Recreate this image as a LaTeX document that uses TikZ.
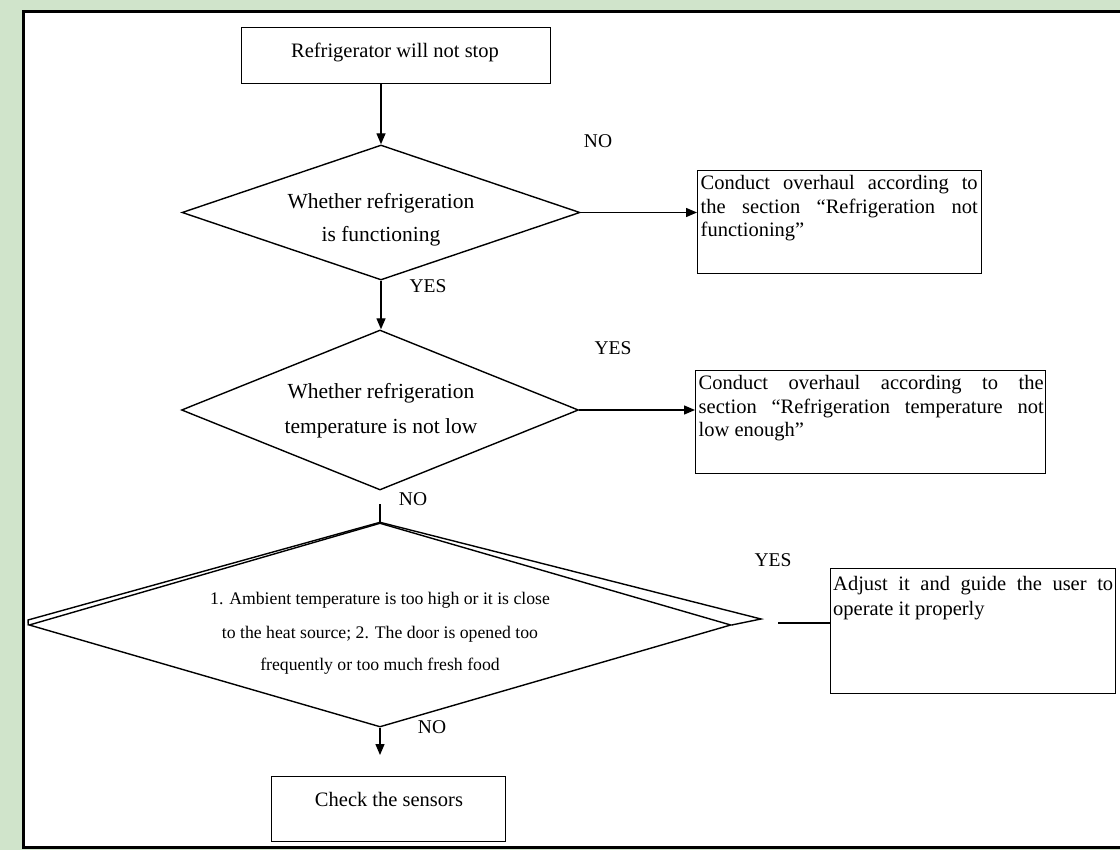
\documentclass[tikz,border=0pt]{standalone}
\usepackage{fontspec}
\setmainfont{Liberation Serif}
\usetikzlibrary{shapes.geometric,arrows.meta}
\definecolor{bggreen}{RGB}{208,228,203}
\begin{document}
\begin{tikzpicture}[x=1pt,y=-1pt,
  line width=1.4pt,
  box/.style={draw, rectangle, inner sep=0pt, anchor=north west},
  dia/.style={draw, diamond, inner sep=0pt},
  txt/.style={inner sep=0pt, anchor=base, font=\fontsize{20.5}{23.5}\selectfont},
  ltxt/.style={inner sep=0pt, anchor=base west, font=\fontsize{20.5}{23.5}\selectfont},
  dtxt/.style={inner sep=0pt, anchor=base, font=\fontsize{21.5}{25}\selectfont},
  stxt/.style={inner sep=0pt, anchor=base, font=\fontsize{17.7}{20}\selectfont},
  lbl/.style={inner sep=0pt, anchor=center, font=\fontsize{19.5}{22}\selectfont},
  arr/.style={-{Triangle[length=11pt,width=9pt]}},
]
\useasboundingbox (0,0) rectangle (1120,850);
\clip (0,0) rectangle (1120,850);
% background and frame
\fill[bggreen] (0,0) rectangle (1120,850);
\fill[white] (23,12) rectangle (1130,848);
\draw[line width=3pt] (1130,12) -- (23.5,12) -- (23.5,847.5) -- (1130,847.5);

% boxes
\node[box, minimum width=309pt, minimum height=56pt] (b1) at (241,27) {};
\node[box, minimum width=284pt, minimum height=103pt] (b2) at (697,170) {};
\node[box, minimum width=350pt, minimum height=103pt] (b3) at (695,370) {};
\node[box, minimum width=285pt, minimum height=125pt] (b4) at (830,568) {};
\node[box, minimum width=234pt, minimum height=65pt] (b5) at (271,776) {};

% diamonds
\node[dia, minimum width=398pt, minimum height=135pt] (d1) at (381,212.5) {};
\node[dia, minimum width=397pt, minimum height=160pt] (d2) at (380,410) {};
\node[dia, minimum width=702pt, minimum height=204pt] (d3) at (380,625) {};
\draw (d3.north) -- (761,619) -- (d3.east);
\draw (d3.north) -- (28,620) -- (d3.west);

% texts
\node[txt] (t1) at (395,58) {Refrigerator will not stop};
\node[dtxt] (t2a) at (381,209) {Whether refrigeration};
\node[dtxt] (t2b) at (381,242) {is functioning};
\node[dtxt] (t3a) at (381,399) {Whether refrigeration};
\node[dtxt] (t3b) at (381,433) {temperature is not low};
\node[stxt] (t4a) at (380,604) {1. Ambient temperature is too high or it is close};
\node[stxt] (t4b) at (380,638) {to the heat source; 2. The door is opened too};
\node[stxt] (t4c) at (380,670) {frequently or too much fresh food};
\node[ltxt] (t5a) at (700,190) {\makebox[277pt][s]{Conduct overhaul according to}};
\node[ltxt] (t5b) at (700,213.5) {\makebox[277pt][s]{the section “Refrigeration not}};
\node[ltxt] (t5c) at (700,237) {functioning”};
\node[ltxt] (t6a) at (698,390) {\makebox[345pt][s]{Conduct overhaul according to the}};
\node[ltxt] (t6b) at (698,413.5) {\makebox[345pt][s]{section “Refrigeration temperature not}};
\node[ltxt] (t6c) at (698,437) {low enough”};
\node[ltxt] (t7a) at (832.5,590) {\makebox[280pt][s]{Adjust it and guide the user to}};
\node[ltxt] (t7b) at (832.5,615) {operate it properly};
\node[txt] (t8) at (389,806) {Check the sensors};

% labels
\node[lbl] (no1) at (598,141) {NO};
\node[lbl] (yes1) at (428,286) {YES};
\node[lbl] (yes2) at (613,348) {YES};
\node[lbl] (no2) at (413,499) {NO};
\node[lbl] (yes3) at (773,560) {YES};
\node[lbl] (no3) at (432,727) {NO};

% connectors
\coordinate (c2) at (380,504);
\coordinate (c3) at (778,623);
\coordinate (c4) at (380,755);
\draw[arr] (b1.south -| d1.north) -- (d1.north);
\draw[arr] (d1.south) -- (d1.south |- d2.north);
\draw[arr] (d1.east) -- (d1.east -| b2.west);
\draw[arr] (d2.east) -- (d2.east -| b3.west);
\draw (c2) -- (d3.north);
\draw (c3) -- (c3 -| b4.west);
\draw[arr] (d3.south) -- (c4);
\end{tikzpicture}
\end{document}
